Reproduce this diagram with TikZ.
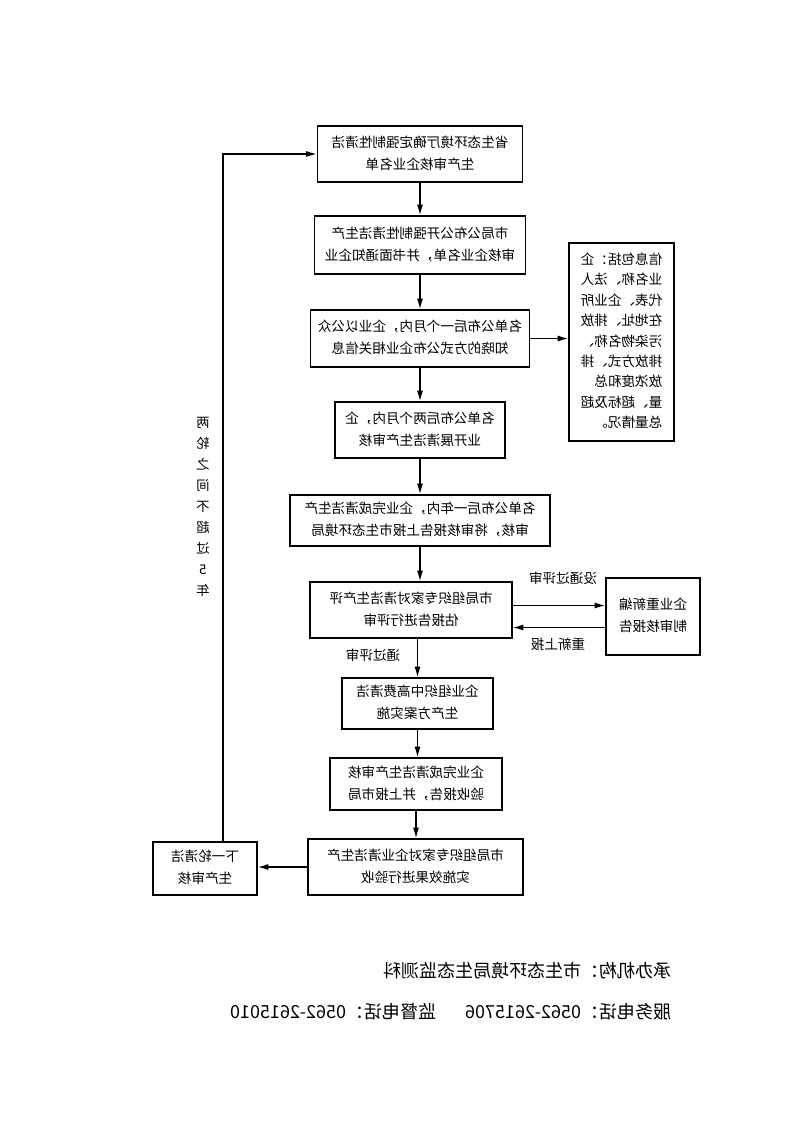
\documentclass[tikz,border=0pt]{standalone}
\usepackage{fontspec}
\setmainfont{Noto Sans CJK SC}
\usepackage{graphicx}
\usetikzlibrary{arrows.meta}
\newcommand\mirtext[2][c]{\reflectbox{\begin{tabular}{@{}#1@{}}#2\end{tabular}}}
\begin{document}
\begin{tikzpicture}[x=0.75pt,y=-0.75pt,
  box/.style={draw,line width=1pt,inner sep=0pt,align=center},
  arr/.style={line width=1pt,-{Latex[length=8pt,width=4.5pt]}},
  lbl/.style={inner sep=0pt},
  font=\fontsize{10.2}{16.5}\selectfont]
\useasboundingbox (0,0) rectangle (793,1122);
\fill[white] (0,0) rectangle (793,1122);

\node[box,minimum width=153.75pt,minimum height=42pt] (box1) at (420,154)
  {\mirtext{省生态环境厅确定强制性清洁\\生产审核企业名单}};
\node[box,minimum width=158.25pt,minimum height=43.5pt] (box2) at (420,245)
  {\mirtext{市局公布公开强制性清洁生产\\审核企业名单，并书面通知企业}};
\node[box,minimum width=164.25pt,minimum height=42.75pt] (box3) at (420,338.5)
  {\mirtext{名单公布后一个月内，企业以公众\\知晓的方式公布企业相关信息}};
\node[box,minimum width=127.5pt,minimum height=42pt] (box4) at (420,430)
  {\mirtext{名单公布后两个月内，企\\业开展清洁生产审核}};
\node[box,minimum width=195pt,minimum height=38.25pt] (box5) at (420,520.5)
  {\mirtext{名单公布后一年内，企业完成清洁生产\\审核，将审核报告上报市生态环境局}};
\node[box,minimum width=151.5pt,minimum height=42pt] (box6) at (411,610)
  {\mirtext{市局组织专家对清洁生产评\\估报告进行评审}};
\node[box,minimum width=113.25pt,minimum height=38.25pt] (box7) at (417.5,703.5)
  {\mirtext{企业组织中高费清洁\\生产方案实施}};
\node[box,minimum width=129pt,minimum height=39pt] (box8) at (416,784)
  {\mirtext{企业完成清洁生产审核\\验收报告，并上报市局}};
\node[box,minimum width=161.25pt,minimum height=42pt] (box9) at (415.5,867)
  {\mirtext{市局组织专家对企业清洁生产\\实施效果进行验收}};
\node[box,minimum width=78pt,minimum height=39.75pt] (box10) at (205,868.5)
  {\mirtext{下一轮清洁\\生产审核}};
\node[box,minimum width=78.75pt,minimum height=148.5pt,
  font=\fontsize{10.2}{15.3}\selectfont] (info) at (621.5,342)
  {\mirtext[l]{信息包括：企\\业名称、法人\\代表、企业所\\在地址、排放\\污染物名称、\\排放方式、排\\放浓度和总\\量、超标及超\\总量情况。}};
\node[box,minimum width=70.5pt,minimum height=57.75pt] (rbox) at (653,616.5)
  {\mirtext{企业重新编\\制审核报告}};

\draw[arr] (box1.south) -- (box1.south |- box2.north);
\draw[arr] (box2.south) -- (box2.south |- box3.north);
\draw[arr] (box3.south) -- (box3.south |- box4.north);
\draw[arr] (box4.south) -- (box4.south |- box5.north);
\draw[arr] (box5.south) -- (box5.south |- box6.north);
\draw[arr] (box7.north |- box6.south) -- (box7.north);
\draw[arr] (box7.south) -- (box7.south |- box8.north);
\draw[arr] (box8.south) -- (box8.south |- box9.north);
\draw[arr] (box3.east) -- (box3.east -| info.west);
\draw[arr] ([yshift=8.25pt]rbox.west -| box6.east) -- ([yshift=8.25pt]rbox.west);
\draw[arr] ([yshift=-8.25pt]rbox.west) -- ([yshift=-8.25pt]rbox.west -| box6.east);
\draw[arr] (box9.west) -- (box9.west -| box10.east);
\draw[arr] ([xshift=13.5pt]box10.north) |- (box1.west);

\node[lbl] (l1) at (563,579) {\mirtext{没通过评审}};
\node[lbl] (l2) at (558,645) {\mirtext{重新上报}};
\node[lbl] (l3) at (373,656) {\mirtext{通过评审}};
\node[lbl,font=\fontsize{10}{15.75}\selectfont] (vl) at (203,507.5)
  {\mirtext{两\\轮\\之\\间\\不\\超\\过\\5\\年}};

\node[lbl,anchor=east,font=\fontsize{13.5}{16}\selectfont] (f1) at (672,971)
  {\reflectbox{承办机构：市生态环境局生态监测科}};
\node[lbl,anchor=east,font=\fontsize{13.5}{16}\selectfont] (f2) at (672,1012)
  {\reflectbox{服务电话：0562-2615706\hspace{1.6em}监督电话：0562-2615010}};
\end{tikzpicture}
\end{document}
